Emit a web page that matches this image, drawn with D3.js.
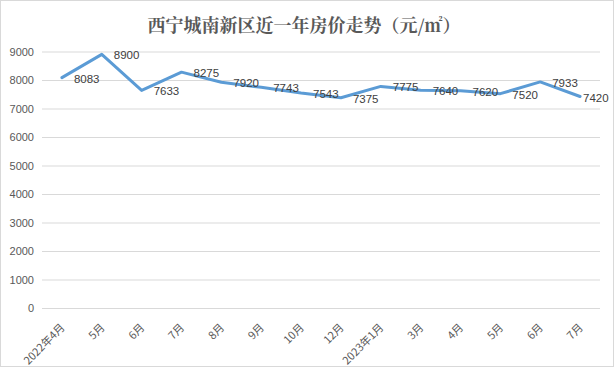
<!DOCTYPE html>
<html>
<head>
<meta charset="utf-8">
<script src="https://cdn.jsdelivr.net/npm/d3@7"></script>
<style>
  body { margin: 0; background: #fff; }
  svg text { font-family: "Microsoft YaHei", "Noto Sans CJK SC", sans-serif; }
</style>
</head>
<body>
<div id="chart"></div>
<script>
const months = ['2022年4月', '5月', '6月', '7月', '8月', '9月', '10月', '12月', '2023年1月', '3月', '4月', '5月', '6月', '7月'];
const prices = [8083, 8900, 7633, 8275, 7920, 7743, 7543, 7375, 7775, 7640, 7620, 7520, 7933, 7420];
const yTicks = [0, 1000, 2000, 3000, 4000, 5000, 6000, 7000, 8000, 9000];

const width = 614;
const height = 367;
const margin = { left: 42, right: 14, top: 51.5, bottom: 59 };

const svg = d3.select('#chart').append('svg')
    .attr('width', width)
    .attr('height', height);

svg.append('rect')
    .attr('x', 0.5).attr('y', 0.5)
    .attr('width', width - 1).attr('height', height - 1)
    .attr('fill', 'white')
    .attr('stroke', '#d9d9d9');

svg.append('text')
    .attr('x', 304)
    .attr('y', 32)
    .attr('text-anchor', 'middle')
    .attr('font-size', 18)
    .attr('font-weight', 'bold')
    .attr('fill', '#595959')
    .style('font-family', '"Noto Serif CJK SC", "Noto Sans CJK SC", serif')
    .text('西宁城南新区近一年房价走势（元/㎡）');

// points sit in the middle of each category
const x = d3.scalePoint()
    .domain(d3.range(months.length))
    .range([margin.left, width - margin.right])
    .padding(0.5);

const y = d3.scaleLinear()
    .domain([0, 9000])
    .range([height - margin.bottom, margin.top]);

const grid = svg.append('g')
    .attr('transform', `translate(${margin.left},0)`)
    .call(d3.axisLeft(y).tickValues(yTicks).tickSize(-(width - margin.left - margin.right)).tickFormat(d => d).tickPadding(8));
grid.select('.domain').remove();
grid.selectAll('line').attr('stroke', '#d9d9d9');
grid.selectAll('text')
    .attr('fill', '#595959')
    .attr('font-size', 11)
    .style('font-family', '"Liberation Sans", sans-serif');

const xAxis = svg.append('g')
    .attr('transform', `translate(0,${height - margin.bottom})`)
    .call(d3.axisBottom(x).tickSize(0).tickFormat(i => months[i]));
xAxis.select('.domain').remove();
xAxis.selectAll('text')
    .attr('fill', '#595959')
    .attr('font-size', 11)
    .attr('text-anchor', 'end')
    .attr('dy', 0)
    .attr('transform', 'translate(1,18) rotate(-45)');

const line = d3.line()
    .x((d, i) => x(i))
    .y(d => y(d));

svg.append('path')
    .datum(prices)
    .attr('d', line)
    .attr('fill', 'none')
    .attr('stroke', '#5b9bd5')
    .attr('stroke-width', 3)
    .attr('stroke-linejoin', 'round')
    .attr('stroke-linecap', 'round');

// labels to the right of the point, pulled back in if they would run off the chart
svg.append('g').selectAll('text')
    .data(prices)
    .join('text')
    .attr('x', (d, i) => Math.min(x(i) + 12, 583))
    .attr('y', d => y(d) + 5)
    .attr('font-size', 11.5)
    .attr('fill', '#404040')
    .style('font-family', '"Liberation Sans", sans-serif')
    .text(d => d);
</script>
</body>
</html>
